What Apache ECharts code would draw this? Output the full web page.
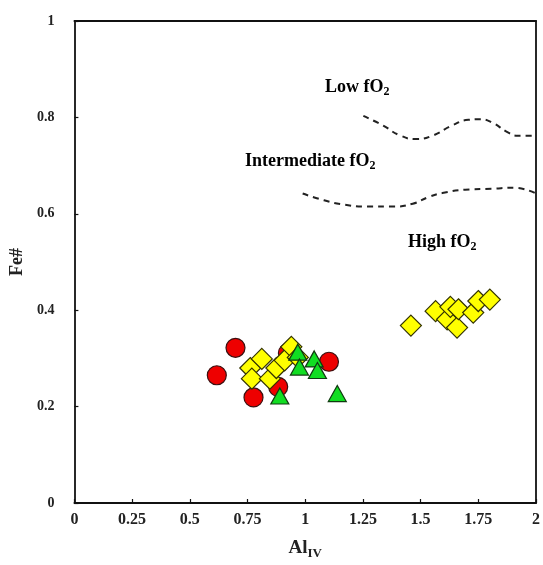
<!DOCTYPE html>
<html><head><meta charset="utf-8">
<script src="https://cdn.jsdelivr.net/npm/echarts@6/dist/echarts.min.js"></script>
<style>html,body{margin:0;padding:0;background:#fff}#c{width:543px;height:565px}</style>
</head><body><div id="c"></div>
<script>
const redCircles = [[0.617,0.265],[0.698,0.322],[0.776,0.219],[0.883,0.241],[0.925,0.311],[1.103,0.293]];
const yellowDiamonds = [[0.762,0.280],[0.769,0.258],[0.812,0.299],[0.847,0.258],[0.875,0.280],[0.911,0.296],[0.940,0.324],[0.968,0.302],
  [1.458,0.368],[1.565,0.398],[1.615,0.381],[1.629,0.407],[1.658,0.364],[1.664,0.402],[1.728,0.395],[1.750,0.419],[1.800,0.422]];
const greenTriangles = [[0.890,0.222],[0.968,0.313],[0.975,0.282],[1.039,0.299],[1.053,0.275],[1.139,0.227]];
const lowBoundary = [[1.252,0.803],[1.338,0.783],[1.409,0.763],[1.480,0.755],[1.551,0.762],[1.636,0.783],[1.707,0.795],[1.757,0.796],[1.807,0.790],[1.878,0.769],[1.920,0.762],[2.0,0.762]];
const highBoundary = [[0.989,0.642],[1.082,0.628],[1.167,0.619],[1.267,0.615],[1.380,0.615],[1.466,0.621],[1.536,0.635],[1.594,0.643],[1.693,0.650],[1.807,0.652],[1.906,0.654],[2.0,0.642]];
const xTicks = {min:0, max:2, interval:0.25};
const yTicks = {min:0, max:1, interval:0.2};

const F = '"Liberation Serif","DejaVu Serif",serif';
const chart = echarts.init(document.getElementById('c'));
const axLine = {show:true, onZero:false, lineStyle:{color:'#111', width:1.8}};
function ann(x,y,main){
  return {type:'text', x:x, y:y, z:100, style:{text:'{m|'+main+'}{s|2}', rich:{m:{fontFamily:F,fontWeight:'bold',fontSize:18,color:'#222'}, s:{fontFamily:F,fontWeight:'bold',fontSize:12,color:'#222',padding:[10,0,0,0]}}}};
}
chart.setOption({
  animation:false,
  grid:{left:73, top:21, right:1, bottom:58},
  xAxis:[{type:'value', min:xTicks.min, max:xTicks.max, interval:xTicks.interval,
    axisLine:axLine, axisTick:{show:true, inside:true, length:4, lineStyle:{color:'#111',width:1.2}},
    splitLine:{show:false}, axisLabel:{margin:9, fontFamily:F, fontWeight:'bold', fontSize:16, color:'#222'},
    name:'Al{s|IV}', nameLocation:'middle', nameGap:33,
    nameTextStyle:{fontFamily:F, fontWeight:'bold', fontSize:19, color:'#222', rich:{s:{fontFamily:F,fontWeight:'bold',fontSize:13,color:'#222',padding:[11,0,0,0]}}}},
   {type:'value', position:'top', min:xTicks.min, max:xTicks.max, axisLine:axLine, axisTick:{show:false}, axisLabel:{show:false}, splitLine:{show:false}}],
  yAxis:[{type:'value', min:yTicks.min, max:yTicks.max, interval:yTicks.interval,
    axisLine:axLine, axisTick:{show:true, inside:true, length:4, lineStyle:{color:'#111',width:1.2}},
    splitLine:{show:false}, axisLabel:{margin:20, fontFamily:F, fontWeight:'bold', fontSize:14, color:'#222'},
    name:'Fe#', nameLocation:'middle', nameGap:45, nameRotate:90,
    nameTextStyle:{fontFamily:F, fontWeight:'bold', fontSize:18, color:'#222'}},
   {type:'value', position:'right', min:yTicks.min, max:yTicks.max, axisLine:axLine, axisTick:{show:false}, axisLabel:{show:false}, splitLine:{show:false}}],
  graphic:[ann(325,76,'Low fO'), ann(245,150,'Intermediate fO'), ann(408,231,'High fO')],
  series:[
    {type:'line', data:lowBoundary, smooth:true, symbol:'none', lineStyle:{color:'#222', width:2, type:[6,5]}, z:1},
    {type:'line', data:highBoundary, smooth:true, symbol:'none', lineStyle:{color:'#222', width:2, type:[6,5]}, z:1},
    {type:'scatter', data:redCircles, symbol:'circle', symbolSize:19, itemStyle:{color:'#ee0000', borderColor:'#3a1010', borderWidth:1.2, opacity:1}, z:2},
    {type:'scatter', data:yellowDiamonds, symbol:'diamond', symbolSize:[21,21], itemStyle:{color:'#ffff00', borderColor:'#333300', borderWidth:1.2, opacity:1}, z:3},
    {type:'scatter', data:greenTriangles, symbol:'triangle', symbolSize:[18,16], itemStyle:{color:'#11dd22', borderColor:'#103a10', borderWidth:1.2, opacity:1}, z:4}
  ]
});
</script></body></html>
